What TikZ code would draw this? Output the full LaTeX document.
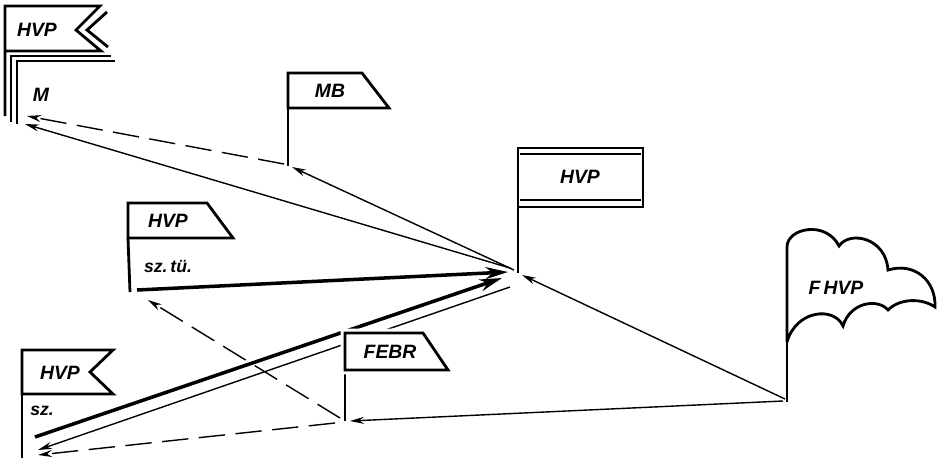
\documentclass[tikz,border=0pt]{standalone}
\usepackage{fontspec}
\setsansfont{Liberation Sans}
\usepackage{tikz}
\usetikzlibrary{arrows.meta,positioning,calc}

\begin{document}
\begin{tikzpicture}[
    x=0.02cm, y=-0.02cm,
    flag/.style={draw, fill=white, line width=1.6pt, line join=miter},
    pole/.style={draw, line width=1.6pt},
    thinarrow/.style={-{Stealth[length=2.8mm, width=1.4mm]}, line width=0.8pt},
    thickarrow/.style={-{Stealth[length=4.5mm, width=2.4mm]}, line width=2pt},
    dasharrow/.style={thinarrow, dash pattern=on 15pt off 6pt},
    lbl/.style={font=\sffamily\bfseries\itshape\fontsize{11}{13}\selectfont, inner sep=0pt},
    sublbl/.style={font=\sffamily\bfseries\itshape\fontsize{10}{12}\selectfont, inner sep=0pt}
]
\useasboundingbox (0,0) rectangle (941,458);

% Pole feet
\coordinate (mTip) at (24,120);
\coordinate (mbFoot) at (288,166);
\coordinate (hvpFoot) at (518,273);
\coordinate (tuFoot) at (130,292);
\coordinate (febrFoot) at (345,421);
\coordinate (szFoot) at (22,445);
\coordinate (fhvpFoot) at (787,402);

% Connectors
\draw[thinarrow] ([shift={(-2,-3)}]fhvpFoot) -- ([shift={(4,2)}]hvpFoot);
\draw[thinarrow] ([shift={(-4,-1)}]fhvpFoot) -- ([shift={(5,0)}]febrFoot);
\draw[thinarrow] ([shift={(-4,-3)}]hvpFoot) -- ([shift={(4,1)}]mbFoot);
\draw[thinarrow] ([shift={(-8,-5)}]hvpFoot) -- ([shift={(1,4)}]mTip);
\draw[dasharrow] ([shift={(-4,-2)}]mbFoot) -- ([shift={(3,-4)}]mTip);
\draw[thickarrow] ([shift={(7,-2)}]tuFoot) -- ([shift={(-10,-1)}]hvpFoot);
\draw[thickarrow] ([shift={(13,-8)}]szFoot) -- ([shift={(-16,5)}]hvpFoot);
\draw[thinarrow] ([shift={(-8,14)}]hvpFoot) -- ([shift={(16,5)}]szFoot);
\draw[dasharrow] ([shift={(-5,-3)}]febrFoot) -- ([shift={(18,8)}]tuFoot);
\draw[dasharrow] ([shift={(-10,2)}]febrFoot) -- ([shift={(16,10)}]szFoot);

% Top-left flag HVP / M
\draw[pole] (17,124) -- (17,61) -- (115,61);
\draw[pole] (11,122) -- (11,56) -- (111,56);
\draw[flag] (5,116) -- (5,6) -- (100,6) -- (76,30) -- (101,51) -- (5,51);
\draw[flag, fill=none] (107,12) -- (87,30) -- (108,47);
\node[lbl] (hvpA) at (37,30) {HVP};
\node[lbl] (mLbl) at (41,95) {M};

% MB flag
\draw[pole] (mbFoot) -- (288,108);
\draw[flag] (288,108) -- (288,73) -- (362,73) -- (389,108) -- cycle;
\node[lbl] (mbLbl) at (330,91) {MB};

% Right HVP flag
\draw[pole] (hvpFoot) -- (518,207);
\draw[flag] (518,148) rectangle (643,207);
\draw[line width=0.8pt] (520,154) -- (641,154);
\draw[line width=1.4pt] (520,200) -- (641,200);
\node[lbl] (hvpC) at (580,177) {HVP};

% Middle HVP flag, sz. tu.
\draw[pole] (tuFoot) -- (128,238);
\draw[flag] (128,238) -- (128,203) -- (207,203) -- (233,238) -- cycle;
\node[lbl] (hvpD) at (168,221) {HVP};
\node[sublbl] (tuLbl) at (168,266) {sz.\,tü.};

% FEBR flag
\draw[pole] (febrFoot) -- (345,370);
\draw[flag, preaction={draw=white, line width=5pt}] (345,370) -- (345,333) -- (423,333) -- (448,370) -- cycle;
\node[lbl] (febrLbl) at (390,352) {FEBR};

% Bottom-left HVP flag, sz.
\draw[pole] (22,458) -- (22,394);
\draw[flag] (22,394) -- (22,350) -- (113,350) -- (90,372) -- (113,394) -- cycle;
\node[lbl] (hvpF) at (60,373) {HVP};
\node[sublbl] (szLbl) at (42,411) {sz.};

% FHVP cloud flag
\draw[pole] (fhvpFoot) -- (787,340);
\draw[flag] (787,342) -- (787,247)
  .. controls (787,228) and (826,220) .. (839,246)
  .. controls (850,230) and (886,238) .. (888,270)
  .. controls (914,262) and (936,280) .. (935,307)
  .. controls (922,298) and (900,298) .. (888,310)
  .. controls (878,298) and (850,302) .. (843,326)
  .. controls (834,306) and (796,310) .. (787,342);
\node[lbl] (fhvpLbl) at (836,288) {F\,HVP};
\end{tikzpicture}
\end{document}
